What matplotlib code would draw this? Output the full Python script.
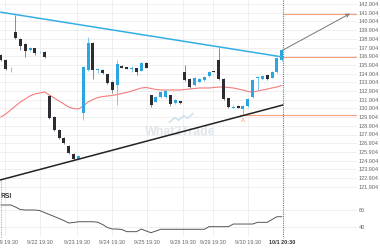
import matplotlib
matplotlib.use("Agg")
import matplotlib.pyplot as plt
from matplotlib.lines import Line2D
import numpy as np

plt.rcParams['font.family'] = ['Liberation Sans', 'DejaVu Sans']

# hourly candles, 9/19 -> 10/1
opens = [137.04, 136.47, 135.50, 139.69, 138.88, 138.31, 137.62, 137.85, 137.35, 137.39,
         132.33, 129.92, 128.42, 127.50, 126.58, 125.66, 125.09, 130.38, 135.32, 138.42,
         135.30, 135.32, 134.86, 133.94, 133.59, 135.78, 135.66, 135.43, 135.55, 135.20,
         136.12, 132.44, 131.64, 132.21, 132.21, 132.44, 131.52, 131.75, 135.09, 134.28,
         133.59, 133.94, 134.17, 134.63, 135.20, 136.47, 134.28, 132.10, 131.00, 131.18,
         130.83, 131.18, 132.21, 134.45, 134.28, 134.74, 134.40, 135.09, 136.47]
highs = [137.20, 136.60, 135.70, 141.64, 139.00, 138.40, 138.00, 137.90, 137.50, 137.45,
         132.40, 130.00, 128.50, 127.60, 126.70, 125.80, 125.50, 135.80, 139.11, 138.50,
         135.55, 135.40, 134.90, 134.00, 136.47, 135.90, 135.70, 135.78, 135.60, 136.20,
         136.20, 132.50, 132.30, 132.85, 133.00, 132.50, 131.95, 131.80, 135.89, 134.35,
         134.50, 134.35, 134.60, 135.15, 135.25, 137.85, 134.35, 132.15, 131.29, 131.25,
         131.25, 132.05, 134.25, 134.60, 134.70, 134.80, 135.15, 136.75, 137.70]
lows = [136.30, 135.30, 135.09, 138.90, 137.62, 136.81, 137.50, 137.04, 137.30, 136.75,
        129.69, 128.30, 127.40, 126.80, 125.70, 124.97, 125.00, 129.57, 135.20, 134.28,
        134.97, 134.90, 133.75, 132.67, 131.29, 135.50, 135.40, 135.09, 134.74, 135.15,
        135.50, 131.06, 131.60, 132.15, 132.10, 131.18, 131.45, 131.45, 134.10, 133.30,
        133.50, 133.90, 134.10, 134.55, 135.05, 134.20, 131.90, 131.00, 130.95, 130.90,
        130.15, 131.10, 132.15, 133.02, 134.20, 134.20, 134.35, 135.00, 136.40]
closes = [136.47, 135.43, 135.60, 138.99, 138.08, 137.50, 137.85, 137.27, 137.42, 136.81,
          129.80, 128.42, 127.50, 126.93, 125.78, 125.09, 125.43, 135.66, 138.42, 135.32,
          135.38, 134.97, 133.82, 133.02, 136.01, 135.55, 135.43, 135.55, 135.09, 136.12,
          135.55, 131.29, 132.21, 132.79, 132.90, 131.41, 131.87, 131.52, 134.17, 133.36,
          134.40, 134.28, 134.51, 135.09, 135.09, 134.28, 131.98, 131.06, 131.10, 130.95,
          131.18, 131.98, 134.17, 134.55, 134.63, 134.28, 135.09, 136.70, 137.62]
ma = [129.92, 130.26, 130.72, 131.18, 131.64, 131.98, 132.33, 132.56, 132.67, 132.79,
      132.44, 132.10, 131.75, 131.41, 131.06, 130.89, 130.83, 131.18, 131.64, 131.93,
      132.15, 132.27, 132.33, 132.39, 132.50, 132.62, 132.73, 132.90, 133.08, 133.25,
      133.31, 133.19, 133.08, 133.02, 133.02, 133.02, 133.02, 133.02, 133.08, 133.13,
      133.19, 133.25, 133.25, 133.25, 133.31, 133.36, 133.36, 133.31, 133.25, 133.13,
      133.02, 132.85, 132.79, 132.90, 133.02, 133.13, 133.25, 133.36, 133.54]
rsi = [65.9, 65.9, 66.0, 63.5, 60.6, 60.0, 60.0, 60.0, 59.4, 57.0,
       54.7, 52.4, 50.0, 47.6, 44.7, 45.3, 46.2, 46.2, 46.2, 46.2,
       45.6, 42.9, 39.4, 37.6, 37.6, 37.0, 34.5, 34.5, 34.5, 37.6,
       35.3, 33.3, 35.3, 37.3, 37.3, 37.3, 37.3, 37.3, 37.3, 37.3,
       37.3, 37.3, 37.3, 40.4, 40.4, 40.4, 40.4, 40.4, 43.5, 43.5,
       43.5, 43.5, 43.5, 45.5, 45.5, 45.5, 48.8, 52.1, 52.1]

date_labels = ["9/19 19:30", "9/22 19:30", "9/23 19:30", "9/24 19:30", "9/25 19:30",
               "9/26 19:30", "9/29 19:30", "9/30 19:30", "10/1 20:30"]
date_pos = [0.8, 8.1, 15.7, 23.0, 30.2, 37.6, 43.8, 51.0, 58.1]

price_ticks = [142.904 - k for k in range(22)]
rsi_ticks = [60, 40]

resist_x, resist_y = [0, 58.2], [141.96, 136.81]
support_x, support_y = [-0.2, 58.2], [122.67, 131.29]
levels = [141.80, 136.78, 130.15]
level_start = [58.2, 58.2, 49.4]
arrow_from = (58.3, 137.62)
arrow_to = (72.1, 141.80)

BLUE = "#2ba6df"
DARK = "#2c2c33"
ORANGE = "#f5a27a"
GRID = "#ececec"
TXT = "#666666"

fig = plt.figure(figsize=(3.8, 2.5), dpi=100)
W, H = 380.0, 250.0
R = 357.0
ax = fig.add_axes([0, 1 - 191 / H, R / W, 191 / H])
ax2 = fig.add_axes([0, 1 - 236 / H, R / W, 45 / H])

xlo, xhi = -0.2, (R - 1) / 4.84
x = np.arange(len(closes))

# grid
for p in price_ticks:
    ax.axhline(p, color=GRID, lw=0.6, zorder=0)
for d in date_pos[:-1]:
    ax.axvline(d, color=GRID, lw=0.6, zorder=0)
    ax2.axvline(d, color=GRID, lw=0.6, zorder=0)
for r in rsi_ticks:
    ax2.axhline(r, color=GRID, lw=0.6, zorder=0)

# candles
o = np.array(opens); c = np.array(closes)
up = c >= o
cols = np.where(up, BLUE, DARK)
wick_cols = np.where(up, "#7cc8ec", "#8a8a8e")
ax.vlines(x, lows, highs, colors=wick_cols, lw=0.7, zorder=2)
body = np.maximum(np.abs(c - o), 0.08)
ax.bar(x, body, bottom=np.minimum(o, c), width=0.62, color=cols, zorder=3)

ax.plot(x, ma, color="#f47c7c", lw=0.8, zorder=1)
ax.plot(resist_x, resist_y, color="#33aee4", lw=1.1, zorder=4)
ax.plot(support_x, support_y, color="#222222", lw=1.1, zorder=4)

for lv, st in zip(levels, level_start):
    ax.plot([st, xhi], [lv, lv], color=ORANGE, lw=0.8, zorder=1)
ax.text(50.0, 129.55, "A", color=ORANGE, fontsize=4.5, ha="center", va="center")
ax.annotate("", xy=arrow_to, xytext=arrow_from,
            arrowprops=dict(arrowstyle="->", color="#777777", lw=0.7,
                            shrinkA=0, shrinkB=0, mutation_scale=6))

# watermark
ax.text(0.505, 0.31, "What2Trade", color="#dfe6ec", fontsize=9,
        fontweight="bold", ha="center", va="center", zorder=0, transform=ax.transAxes)
ax.plot([0.475, 0.49, 0.50, 0.515, 0.525, 0.54], [0.36, 0.385, 0.37, 0.395, 0.38, 0.405],
        color="#cfe3f1", lw=1.2, transform=ax.transAxes, zorder=0)

ax.set_xlim(xlo, xhi)
ax.set_ylim(142.904 - 187 / 8.7, 142.904 + 4 / 8.7)
ax.set_yticks(price_ticks)
ax.set_yticklabels([f"{p:.3f}" for p in price_ticks])
ax.yaxis.tick_right()
ax.tick_params(axis="y", length=0, pad=1.5, labelsize=4.0, labelcolor=TXT)
ax.set_xticks([])

# RSI
ax2.plot(x, rsi, color="#555555", lw=0.7)
ax2.set_xlim(xlo, xhi)
ax2.set_ylim(29.4, 82.4)
ax2.set_yticks(rsi_ticks)
ax2.yaxis.tick_right()
ax2.tick_params(axis="y", length=0, pad=1.5, labelsize=4.0, labelcolor=TXT)
ax2.set_xticks(date_pos)
ax2.set_xticklabels(date_labels)
ax2.tick_params(axis="x", length=0, pad=3, labelsize=4.0, labelcolor=TXT)
ax2.get_xticklabels()[-1].set_fontweight("bold")
ax2.get_xticklabels()[-1].set_color("#333333")
ax2.text(0.0, 75.5, "RSI", fontsize=4.8, fontweight="bold", color="#333333",
         ha="left", va="center")

for a in (ax, ax2):
    for s in a.spines.values():
        s.set_visible(False)

# dotted cursor line through both panels
fig.add_artist(Line2D([283 / W, 283 / W], [1, 1 - 238 / H], color="#777777",
                      lw=0.8, ls=(0, (1, 1)), transform=fig.transFigure))
fig.add_artist(Line2D([1 / W, 1 / W], [1 - 180 / H, 1 - 238 / H], color="#999999",
                      lw=0.6, ls=(0, (1, 1)), transform=fig.transFigure))

fig.savefig("out.png", dpi=100)
